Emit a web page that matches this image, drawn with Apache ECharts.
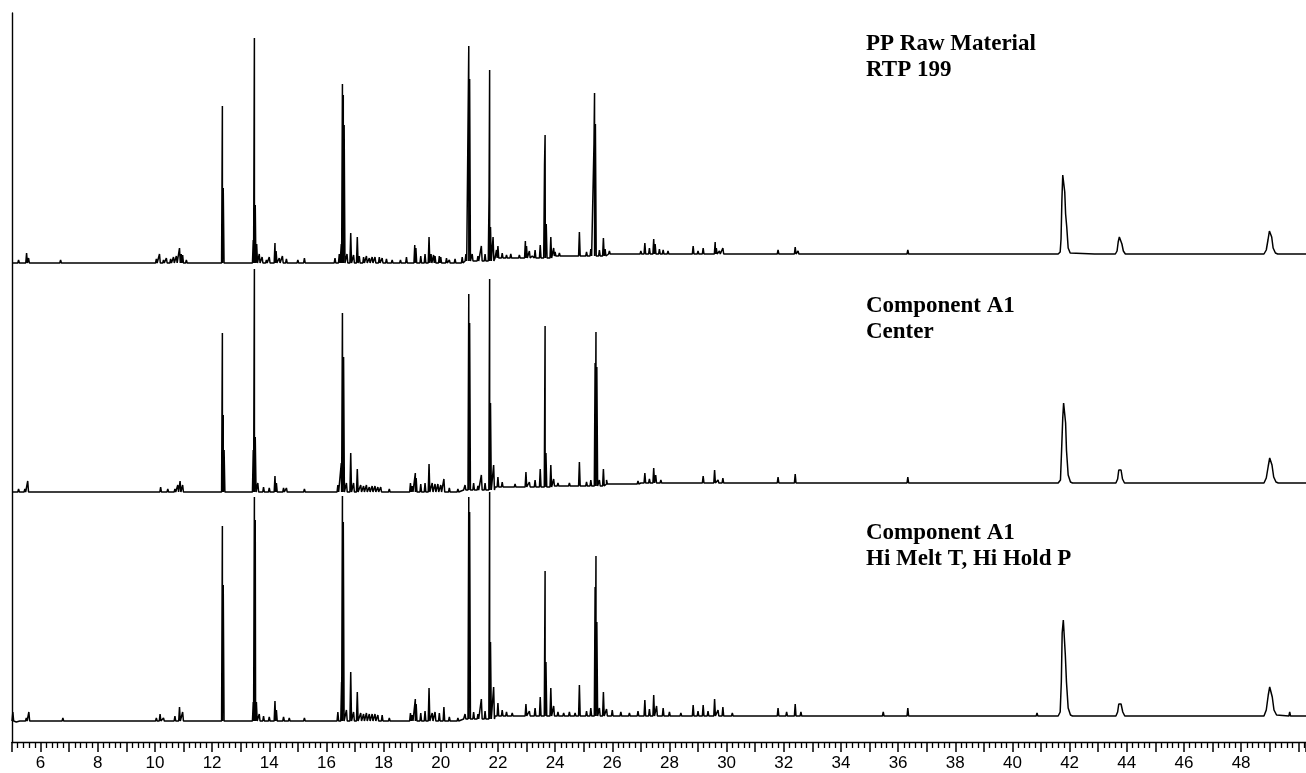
<!DOCTYPE html>
<html>
<head>
<meta charset="utf-8">
<script src="https://cdn.jsdelivr.net/npm/echarts@6/dist/echarts.min.js"></script>
<style>html,body{margin:0;padding:0;background:#fff}#c{width:1306px;height:773px}</style>
</head>
<body>
<div id="c"></div>
<script>
// ---- DATA (retention time in min, intensity in arbitrary units above each trace's zero) ----
const traceLabels = ['PP Raw Material\nRTP 199', 'Component A1\nCenter', 'Component A1\nHi Melt T, Hi Hold P'];
const traceOffsets = [458, 229, 0];   // stacking offset of each trace

// Top trace: PP Raw Material RTP 199
const topBase = [[5.0,21],[20.8,23],[21.9,26],[23.9,28],[25.8,30],[50.27,30]];
const topPeaks = [[5.23,24],[5.51,31],[5.58,26],[5.9,22],[6.2,22],[6.70,24],[7.0,22],[7.4,22],[7.8,22],[8.2,22],[8.5,22],[8.9,22],[9.4,22],[9.8,23],
 [10.05,25],[10.16,30],[10.3,24],[10.4,26],[10.55,25],[10.65,27],[10.75,28],[10.86,36],[10.92,30],[10.97,29],[11.1,24],[11.3,23],[11.45,23],[11.6,23],[11.8,23],[12.0,23],
 [12.36,178],[12.39,96],[13.44,44],[13.48,246],[13.51,79],[13.56,40],[13.65,30],[13.75,27],
 [13.9,24],[14.0,27],[14.2,41],[14.24,33],[14.35,26],[14.46,28],[14.6,25],[14.9,23],[15.0,24],[15.23,26],[15.5,23],[15.7,23],[16.0,23],[16.3,26],[16.45,30],
 [16.52,40],[16.56,200],[16.59,189],[16.62,159],[16.72,30],[16.85,51],[16.95,29],[17.08,47],[17.15,28],[17.3,27],[17.4,28],[17.5,26],[17.6,27],[17.7,27],[17.85,27],[17.95,26],[18.1,25],[18.3,24],[18.59,24],[18.8,27],
 [19.09,39],[19.13,36],[19.3,28],[19.45,30],[19.59,47],[19.66,30],[19.75,29],[19.8,28],[19.95,28],[20.0,27],[20.2,26],[20.3,24],[20.5,25],[20.75,27],[20.88,30],
 [20.98,238],[21.01,205],[21.1,30],[21.3,28],[21.42,38],[21.55,30],
 [21.69,89],[21.71,214],[21.74,57],[21.83,47],[21.95,34],[22.0,38],[22.15,31],[22.3,29],[22.45,30],[22.6,27],[22.75,29],
 [22.96,43],[23.0,38],[23.1,33],[23.2,28],[23.3,34],[23.48,39],[23.63,119],[23.65,149],[23.69,60],[23.85,47],[23.95,36],[24.0,32],[24.15,31],[24.3,29],[24.5,30],[24.65,30],
 [24.85,52],[25.1,32],[25.25,35],[25.36,140],[25.38,191],[25.41,160],[25.55,34],[25.69,46],[25.75,35],[25.9,33],[26.1,32],[26.2,31],[26.4,31],[26.6,31],[26.8,31],[27.0,33],
 [27.14,41],[27.3,36],[27.45,45],[27.5,40],[27.65,35],[27.78,34],[27.95,33],[28.2,31],[28.5,32],[28.83,38],[29.0,33],[29.18,36],[29.35,32],[29.6,42],[29.64,36],[29.75,33],[29.87,36],[30.1,32],[30.5,31],[30.9,31],[31.35,32],[31.8,34],[32.2,32],[32.4,37],[32.5,33],[32.7,31],
 [35.48,32],[36.34,34],[36.96,31],[40.8,31],[42.9,31],[48.52,32],[48.7,31]];
const topShapes = [
 [[41.60,30],[41.67,32],[41.70,45],[41.73,84],[41.76,109],[41.80,109],[41.83,92],[41.86,70],[41.90,57],[41.95,36],[42.02,31],[42.08,30]],
 [[43.60,30],[43.66,33],[43.70,42],[43.74,47],[43.79,47],[43.83,40],[43.88,33],[43.95,30]],
 [[48.80,30],[48.88,34],[48.94,44],[48.99,53],[49.03,52],[49.07,47],[49.12,36],[49.20,31],[49.28,30]]
];

// Middle trace: Component A1 Center
const midBase = [[5.0,21],[20.8,23],[21.9,26],[23.9,27],[25.8,29],[27.0,30],[50.27,30]];
const midPeaks = [[5.23,24],[5.45,24],[5.55,32],[5.9,22],[6.3,22],[6.78,23],[7.2,22],[7.6,22],[8.0,22],[8.4,22],[8.9,22],[9.3,22],[9.7,23],[10.2,26],[10.45,24],[10.7,24],[10.8,28],[10.88,32],[10.97,28],[11.2,23],[11.6,23],[12.0,23],
 [12.36,180],[12.39,98],[12.42,63],[13.44,63],[13.48,244],[13.51,76],[13.6,30],[13.8,26],
 [14.0,25],[14.2,37],[14.25,30],[14.5,25],[14.6,25],[15.0,23],[15.23,24],[15.7,23],[16.1,23],[16.4,28],
 [16.52,50],[16.56,200],[16.6,156],[16.7,30],[16.85,60],[16.95,30],[17.08,44],[17.2,28],[17.3,27],[17.4,28],[17.5,26],[17.6,27],[17.7,27],[17.8,26],[17.9,26],[18.2,24],[18.59,23],
 [18.94,30],[19.0,27],[19.11,40],[19.14,35],[19.3,29],[19.45,30],[19.59,49],[19.7,30],[19.8,29],[19.9,29],[20.0,28],[20.11,34],[20.3,25],[20.6,24],[20.85,28],
 [20.98,219],[21.01,190],[21.15,30],[21.3,27],[21.42,38],[21.55,30],[21.71,234],[21.74,110],[21.85,48],[22.0,36],[22.15,31],[22.4,28],[22.6,29],[22.8,28],
 [22.98,41],[23.1,31],[23.3,33],[23.48,44],[23.65,187],[23.68,60],[23.85,48],[23.95,34],[24.1,30],[24.3,29],[24.5,30],[24.7,29],
 [24.85,51],[25.1,31],[25.25,33],[25.40,150],[25.43,181],[25.46,146],[25.55,33],[25.69,44],[25.8,33],[26.0,31],[26.3,31],[26.6,31],[26.9,32],
 [27.14,40],[27.3,34],[27.45,45],[27.52,38],[27.7,33],[28.0,32],[28.4,31],[28.83,31],[29.0,32],[29.18,37],[29.35,32],[29.58,43],[29.7,33],[29.87,35],[30.2,31],[30.8,31],[31.4,31],[31.8,36],[32.1,32],[32.4,39],[32.6,32],
 [35.48,32],[35.6,31],[36.34,36],[36.96,31],[40.86,32],[42.43,32],[48.52,32]];
const midShapes = [
 [[41.60,30],[41.68,33],[41.72,63],[41.76,95],[41.79,110],[41.83,110],[41.86,90],[41.89,63],[41.95,38],[42.03,31],[42.10,30]],
 [[43.62,30],[43.68,34],[43.72,43],[43.76,44],[43.80,43],[43.85,34],[43.92,30]],
 [[48.80,30],[48.88,35],[48.95,47],[49.00,55],[49.04,54],[49.08,48],[49.14,36],[49.22,31],[49.30,30]]
];

// Bottom trace: Component A1 Hi Melt T, Hi Hold P
const botBase = [[5.0,21],[20.8,23],[21.9,26],[50.27,26]];
const botPeaks = [[5.03,30],[5.15,20],[5.3,22],[5.5,24],[5.59,30],[5.8,22],[6.2,22],[6.78,24],[7.1,22],[7.5,22],[8.0,22],[8.6,22],[9.2,22],[9.7,22],[10.05,24],[10.18,28],[10.3,24],[10.55,23],[10.7,26],[10.86,35],[10.97,30],[11.2,23],[11.6,23],[12.0,23],
 [12.36,216],[12.39,157],[13.44,40],[13.48,245],[13.51,222],[13.55,40],[13.65,28],[13.8,26],
 [14.0,25],[14.2,41],[14.25,32],[14.5,25],[14.7,24],[15.0,23],[15.23,24],[15.6,23],[16.0,23],[16.4,30],
 [16.53,60],[16.56,246],[16.59,220],[16.7,32],[16.85,70],[16.95,30],[17.08,50],[17.2,29],[17.3,28],[17.4,29],[17.5,28],[17.6,28],[17.7,28],[17.8,27],[17.95,27],[18.2,24],[18.6,23],
 [18.94,29],[19.0,27],[19.11,43],[19.14,38],[19.3,29],[19.45,31],[19.59,54],[19.7,29],[19.8,30],[19.95,29],[20.11,35],[20.3,25],[20.6,24],[20.85,28],
 [20.98,245],[21.01,230],[21.15,30],[21.3,28],[21.42,43],[21.55,31],[21.71,250],[21.74,100],[21.85,55],[22.0,39],[22.15,32],[22.3,30],[22.5,29],[22.7,28],
 [22.98,38],[23.1,31],[23.3,34],[23.48,45],[23.65,171],[23.68,80],[23.85,54],[23.95,36],[24.1,30],[24.3,29],[24.5,30],[24.7,29],
 [24.85,57],[25.1,31],[25.25,34],[25.40,155],[25.43,186],[25.46,120],[25.55,34],[25.69,50],[25.8,33],[26.0,32],[26.3,30],[26.6,29],[26.9,31],
 [27.14,42],[27.3,33],[27.45,47],[27.55,36],[27.78,34],[28.0,30],[28.4,29],[28.83,37],[29.0,31],[29.18,37],[29.35,31],[29.58,43],[29.7,32],[29.87,35],[30.2,29],[30.8,28],[31.4,28],[31.8,34],[32.1,30],[32.4,38],[32.6,30],
 [35.48,30],[36.34,34],[36.96,28],[40.86,29],[49.7,30]];
const botShapes = [
 [[41.60,26],[41.67,30],[41.71,60],[41.74,109],[41.78,122],[41.82,120],[41.85,87],[41.89,60],[41.95,34],[42.03,27],[42.10,26]],
 [[43.62,26],[43.68,30],[43.72,38],[43.76,40],[43.80,38],[43.86,30],[43.93,26]],
 [[48.80,26],[48.88,32],[48.95,47],[49.00,55],[49.04,53],[49.09,45],[49.15,32],[49.24,27],[49.30,26]]
];

const xTickLabels = [6,8,10,12,14,16,18,20,22,24,26,28,30,32,34,36,38,40,42,44,46,48];

// ---- BUILD ----
const SPIKE_HALF = 0.028;
function footAt(base, t) {            // baseline level in effect at time t (step lookup)
  let v = base[0][1];
  for (const b of base) { if (b[0] <= t) v = b[1]; }
  return v;
}
function buildTrace(base, peaks, shapes, offset) {
  const pts = [];
  base.forEach(b => pts.push([b[0], b[1]]));
  peaks.forEach(p => {
    const f = footAt(base, p[0]);
    pts.push([p[0] - SPIKE_HALF, f], [p[0], p[1]], [p[0] + SPIKE_HALF, f]);
  });
  shapes.forEach(s => s.forEach(q => pts.push([q[0], q[1]])));
  pts.sort((a, b) => a[0] - b[0]);
  return pts.map(p => [p[0], p[1] + offset]);
}
const traces = [
  buildTrace(topBase, topPeaks, topShapes, traceOffsets[0]),
  buildTrace(midBase, midPeaks, midShapes, traceOffsets[1]),
  buildTrace(botBase, botPeaks, botShapes, traceOffsets[2])
];

const chart = echarts.init(document.getElementById('c'), null, {renderer: 'canvas'});
const labelTops = [31, 293, 520];
chart.setOption({
  animation: false,
  backgroundColor: '#fff',
  grid: {left: 12, right: 0, top: 13, bottom: 31, containLabel: false},
  xAxis: {
    type: 'value', min: 5, max: 50.27, interval: 1,
    axisLine: {show: true, onZero: false, lineStyle: {color: '#000', width: 1.4}},
    axisTick: {show: true, length: 10, lineStyle: {color: '#000', width: 1.5}},
    minorTick: {show: true, splitNumber: 5, length: 6, lineStyle: {color: '#000', width: 1.3}},
    splitLine: {show: false},
    axisLabel: {
      margin: 13, color: '#000', fontFamily: 'Liberation Sans', fontSize: 17,
      showMaxLabel: false, showMinLabel: false,
      formatter: v => (xTickLabels.indexOf(Math.round(v)) >= 0 && Math.abs(v - Math.round(v)) < 1e-6) ? String(Math.round(v)) : ''
    }
  },
  yAxis: {
    type: 'value', min: 0, max: 729,
    axisLine: {show: true, lineStyle: {color: '#000', width: 1.4}},
    axisTick: {show: false}, axisLabel: {show: false}, splitLine: {show: false}
  },
  graphic: traceLabels.map((t, i) => ({
    type: 'text', left: 866, top: labelTops[i],
    style: {text: t, fill: '#000', font: 'bold 23px "Liberation Serif"', lineHeight: 26}
  })),
  series: traces.map(d => ({
    type: 'line', data: d, showSymbol: false, symbol: 'none', sampling: null,
    lineStyle: {color: '#000', width: 1.5}, clip: true
  }))
});
</script>
</body>
</html>
